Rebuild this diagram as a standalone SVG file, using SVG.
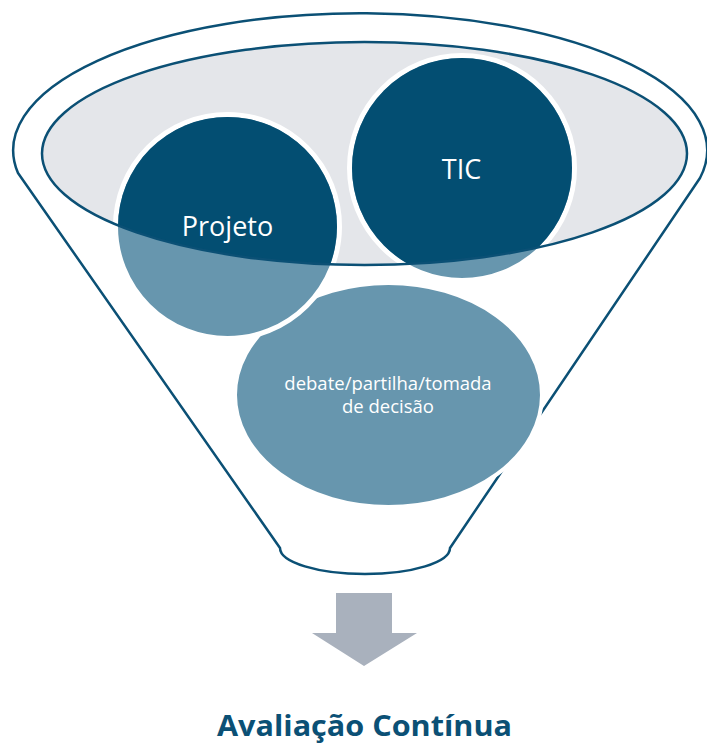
<svg xmlns="http://www.w3.org/2000/svg" width="707" height="744" viewBox="0 0 707 744">
  <style>
    .outline { fill: none; stroke: #0B5075; stroke-width: 2.5; stroke-linejoin: round; }
    .dark { fill: #034E72; }
    .light { fill: #6796AE; }
    .ring { stroke: #FFFFFF; stroke-width: 5; }
    .label { font-family: "Open Sans", "Noto Sans", sans-serif; fill: #FFFFFF; text-anchor: middle; }
    .title { font-family: "Open Sans", "Noto Sans", sans-serif; font-weight: bold; fill: #0B5075; text-anchor: middle; }
  </style>
  <defs>
    <clipPath id="topClip">
      <ellipse cx="364.5" cy="153.5" rx="322.5" ry="111.5"/>
    </clipPath>
  </defs>
  <rect width="707" height="744" fill="#FFFFFF"/>

  <g id="funnel">
    <path class="outline" d="M 18,173 A 347 137 0 1 1 700,178 L 450,548 A 85 26 0 0 1 280,548 Z"/>
  </g>

  <g id="funnel-top">
    <ellipse cx="364.5" cy="153.5" rx="322.5" ry="111.5" fill="#E4E6EA"/>
  </g>

  <g id="debate">
    <ellipse cx="388.5" cy="395" rx="153.5" ry="112" class="light" stroke="#FFFFFF" stroke-width="4"/>
    <text class="label" x="388" y="390" font-size="18.5">debate/partilha/tomada</text>
    <text class="label" x="388" y="413" font-size="18.5">de decisão</text>
  </g>

  <g id="projeto">
    <circle cx="227.5" cy="226.5" r="112" class="light ring"/>
    <circle cx="227.5" cy="226.5" r="109.5" class="dark" clip-path="url(#topClip)"/>
    <text class="label" x="227.5" y="236" font-size="27">Projeto</text>
  </g>

  <g id="tic">
    <circle cx="462" cy="168" r="112.5" class="light ring"/>
    <circle cx="462" cy="168" r="110" class="dark" clip-path="url(#topClip)"/>
    <text class="label" x="461.5" y="179" font-size="27">TIC</text>
  </g>

  <g id="funnel-top-rim">
    <ellipse cx="364.5" cy="153.5" rx="322.5" ry="111.5" class="outline"/>
  </g>

  <g id="connectors">
    <polygon points="336,593 392,593 392,633 417,633 364,666 312,633 336,633" fill="#A9B1BD"/>
  </g>

  <g id="result">
    <text class="title" x="364.5" y="736" font-size="29" textLength="295" lengthAdjust="spacingAndGlyphs">Avaliação Contínua</text>
  </g>
</svg>
